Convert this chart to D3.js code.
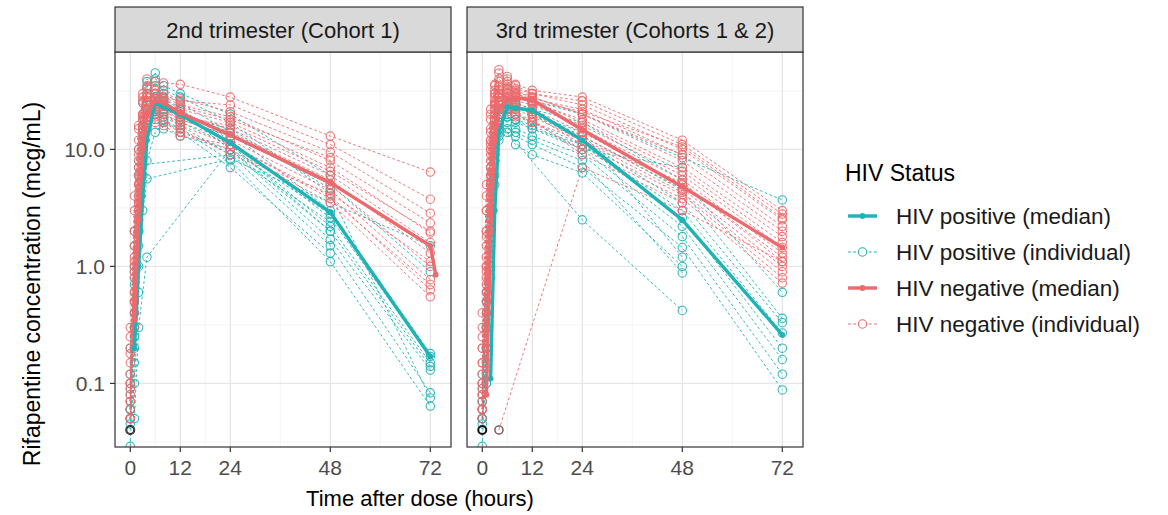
<!DOCTYPE html>
<html><head><meta charset="utf-8">
<script src="https://cdn.jsdelivr.net/npm/d3@7"></script>
<style>
body{margin:0;background:#fff;}
svg{display:block;}
text{font-family:"Liberation Sans",Arial,Helvetica,sans-serif;}
</style>
</head><body>
<svg id="c" width="1168" height="515"></svg>
<script>
// ---------------- DATA ----------------
const panelTitles = ["2nd trimester (Cohort 1)", "3rd trimester (Cohorts 1 & 2)"];
const legendTitle = "HIV Status";
const legendLabels = ["HIV positive (median)", "HIV positive (individual)", "HIV negative (median)", "HIV negative (individual)"];
const xTicks = [0, 12, 24, 48, 72];
const xMinor = [6, 18, 36, 60];
const yTicks = [0.1, 1, 10];
const yTickLabels = ["0.1", "1.0", "10.0"];
const yMinor = [0.0316, 0.316, 3.16, 31.6];
const yLimits = [0.0286, 68];
const xTitle = "Time after dose (hours)";
const yTitle = "Rifapentine concentration (mcg/mL)";

// sampling times for individual profiles (hours)
const indTimes = [0, 1, 2, 3, 4, 6, 8, 12, 24, 48, 72];

// Panel 1 (2nd trimester) - HIV positive individuals
const p1PosInd = [
  [0.029, 0.6, 5, 18, 34, 45, 30, 25, 14, 3.0, 0.18],
  [0.05, 0.3, 2.5, 10, 22, 28, 27, 22, 12, 2.6, 0.17],
  [0.06, 1.0, 8, 20, 30, 33, 26, 20, 11, 2.2, 0.15],
  [0.045, 0.15, 1.0, 6, 15, 24, 25, 21, 10, 1.7, 0.13],
  [0.07, 0.5, 3, 9, 16, 20, 19, 16, 9, 1.5, 0.083],
  [0.05, 0.1, 0.6, 3, 8, 14, 17, 15, 8, 1.1, 0.064],
  [0.09, 1.5, 7, 15, 25, 30, 32, 28, 17, 4.2, 0.075],
  [null, 0.2, 1.5, null, 5.6, null, null, null, 8.3, 3.5, 1.5],
  [null, 0.05, 0.3, null, 1.2, null, null, null, 10, 2.0, null],
  [0.06, 0.8, 6, 16, 24, 27, 22, 18, 13, 5.0, 0.9],
  [0.12, 2, 10, 25, 38, 40, 35, 30, 20, 6.0, null],
  [0.05, 0.4, 3.5, 12, 20, 22, 18, 14, 7, 1.3, null],
  [0.08, 0.3, 2, 7.4, null, null, null, null, 9, 2.4, null],
  [0.2, 0.7, 4, 12, 19, 18, 15, 13, 10, 2.8, null],
  [0.06, 0.9, 6, 14, 22, 26, 24, 19, 15, 4.6, null],
  [0.1, 0.25, 2, 8, 18, 21, 20, 17, 11, 2.0, 0.14]
];
// Panel 1 - HIV negative individuals
const p1NegInd = [
  [0.05, 0.5, 6, 20, 35, 38, 37, 36, 28, 13, 6.4],
  [0.06, 1.2, 9, 25, 33, 30, 28, 26, 24, 11, 3.75],
  [0.1, 0.3, 3, 12, 25, 32, 30, 27, 21, 9.5, 2.85],
  [0.07, 2, 12, 30, 40, 35, 28, 24, 19, 8, 2.35],
  [0.15, 0.8, 5, 15, 22, 26, 25, 22, 17, 7, 1.93],
  [0.1, 3, 15, 28, 30, 27, 24, 20, 15, 6, 1.6],
  [0.25, 0.6, 4, 14, 24, 27, 26, 20, 14, 5.5, 1.3],
  [0.07, 1.5, 8, 18, 26, 24, 21, 18, 13, 5, 1.0],
  [0.3, 0.4, 2.5, 9, 17, 20, 20, 17, 12, 4.5, 0.77],
  [0.2, 4, 16, 26, 28, 24, 20, 16, 11, 4, 0.63],
  [0.12, 1, 6, 16, 20, 19, 17, 14, 10, 3.5, 0.55],
  [0.08, 2, 10, 20, 22, 20, 18, 15, 9, 4.2, 1.1],
  [0.09, 1.1, 7, 19, 28, 30, 27, 23, 18, 8.5, null],
  [0.18, 0.5, 3.5, 11, 19, 23, 22, 19, 16, 6.5, 2.0],
  [0.05, 0.9, 5, 13, 18, 17, 16, 13, 11, 3.8, 0.7]
];
// Panel 2 (3rd trimester) - HIV positive individuals
const p2PosInd = [
  [0.029, 0.3, 5, 15, 28, 33, 30, 26, 20, 8.5, 3.7],
  [0.05, 0.1, 1.5, 8, 20, 26, 25, 22, 17, 5.5, 0.6],
  [0.06, 0.2, 3, 12, 22, 24, 23, 21, 13, 4.5, 0.36],
  [0.045, 0.12, 0.8, 5, 14, 22, 24, 20, 12, 3.5, 0.33],
  [0.07, 0.5, 6, 18, 25, 23, 20, 17, 11, 2.6, 0.2],
  [0.05, 0.15, 2, 9, 16, 19, 18, 15, 10, 2.2, 0.16],
  [0.09, 0.3, 4, 13, 19, 17, 15, 13, 9, 1.8, 0.12],
  [0.06, 0.1, 1, 6, 12, 14, 13, 11, 7, 1.45, 0.088],
  [0.05, 0.2, 2.5, 10, 17, null, 11, 9, 6.3, 1.0, null],
  [0.08, 0.4, 5, 14, 17, null, null, null, 2.5, 0.42, null],
  [0.1, 0.3, 3, 9, 13, 15, 14, 12, 8, 0.88, null],
  [0.05, 0.2, 2, 8, 15, 20, 18, 16, 10, 7, null],
  [0.12, 0.6, 7, 20, 30, 27, 24, 20, 14, 1.2, null],
  [0.07, 0.5, 4, 11, 18, 19, 17, 15, 11, 3.0, 0.27]
];
// Panel 2 - HIV negative individuals
const p2NegInd = [
  [0.05, 1, 10, 30, 48, 42, 36, 32, 28, 12, 3.0],
  [0.06, 2, 14, 35, 45, 38, 33, 30, 26, 11, 2.8],
  [0.08, 0.5, 6, 20, 38, 40, 35, 30, 24, 10, 2.5],
  [0.06, 3, 18, 36, 40, 34, 30, 27, 22, 9, 2.2],
  [0.15, 0.8, 8, 24, 35, 36, 32, 28, 20, 8, 2.0],
  [0.1, 4, 20, 30, 32, 30, 28, 25, 18, 7, 1.8],
  [0.2, 0.3, 3, 12, 26, 32, 30, 26, 17, 6.5, 1.6],
  [0.07, 1.5, 12, 26, 30, 28, 26, 24, 16, 6, 1.45],
  [0.3, 0.6, 5, 16, 28, 30, 28, 25, 15, 5.5, 1.3],
  [0.2, 5, 22, 32, 30, 27, 25, 22, 14, 5, 1.2],
  [0.12, 1, 9, 22, 28, 26, 24, 20, 13, 4.6, 1.0],
  [0.08, 2, 12, 24, 26, 24, 22, 19, 12, 4.3, 0.9],
  [0.4, 0.4, 4, 14, 22, 25, 23, 20, 11, 4.1, 0.8],
  [0.15, 3, 15, 25, 25, 22, 20, 17, 10, 3.8, 0.72],
  [0.06, 1.2, 10, 22, 30, 33, 31, 28, 20, 9, null],
  [null, null, null, null, 0.04, null, null, null, 7, 3.0, 1.1],
  [0.1, 0.7, 7, 18, 24, 22, 20, 18, 9, 3.5, null],
  [0.09, 1.8, 11, 28, 34, 31, 29, 26, 21, 10.5, 2.6],
  [0.25, 0.9, 6, 15, 20, 21, 19, 17, 12, 5.2, 1.1]
];

// Median profiles
const p1PosMedT = [1, 2, 3, 4, 6, 8, 12, 24, 48, 72];
const p1PosMed  = [0.2, 1.0, 4, 12, 25, 23, 19.8, 11.4, 2.9, 0.17];
const p1NegMedT = [1, 2, 3, 4, 6, 8, 12, 24, 48, 72, 73.3];
const p1NegMed  = [0.35, 2.5, 10, 20, 26.5, 25, 20.5, 13.3, 5.2, 1.5, 0.85];
const p2PosMedT = [2, 3, 4, 6, 8, 12, 24, 48, 72];
const p2PosMed  = [0.11, 3, 14, 23, 22.5, 21.7, 12, 2.5, 0.26];
const p2NegMedT = [1, 2, 3, 4, 6, 8, 12, 24, 48, 72];
const p2NegMed  = [0.08, 2, 12, 22, 27, 27.5, 26.6, 14.7, 4.8, 1.45];

// Below-quantification samples (plotted in black)
const blqTimes  = [[0, 0], [0, 4]];
const blqValues = [[0.04, 0.04], [0.04, 0.04]];

// ---------------- CHART ----------------
const colPos = "#20b3b6", colNeg = "#ec6a6d";
const svg = d3.select("#c");
const plotTop = 52, plotBot = 447, stripTop = 7;
const panelX = [[115, 451], [467, 803]];

const allT = indTimes.concat(p1NegMedT);
const tMin = d3.min(allT), tMax = d3.max(allT), tPad = (tMax - tMin) * 0.05;
const y = d3.scaleLog().domain(yLimits).range([plotBot, plotTop]);

const panelData = [
  {pos: p1PosInd, neg: p1NegInd, posMed: [p1PosMedT, p1PosMed], negMed: [p1NegMedT, p1NegMed]},
  {pos: p2PosInd, neg: p2NegInd, posMed: [p2PosMedT, p2PosMed], negMed: [p2NegMedT, p2NegMed]}
];

panelData.forEach((pd, i) => {
  const [x0, x1] = panelX[i];
  const x = d3.scaleLinear().domain([tMin - tPad, tMax + tPad]).range([x0, x1]);
  const g = svg.append("g");

  // grid
  g.selectAll(".gxm").data(xMinor).enter().append("line")
    .attr("x1", d => x(d)).attr("x2", d => x(d)).attr("y1", plotTop).attr("y2", plotBot)
    .attr("stroke", "#f2f2f2").attr("stroke-width", 0.9);
  g.selectAll(".gym").data(yMinor).enter().append("line")
    .attr("x1", x0).attr("x2", x1).attr("y1", d => y(d)).attr("y2", d => y(d))
    .attr("stroke", "#f2f2f2").attr("stroke-width", 0.9);
  g.selectAll(".gx").data(xTicks).enter().append("line")
    .attr("x1", d => x(d)).attr("x2", d => x(d)).attr("y1", plotTop).attr("y2", plotBot)
    .attr("stroke", "#e6e6e6").attr("stroke-width", 1.3);
  g.selectAll(".gy").data(yTicks).enter().append("line")
    .attr("x1", x0).attr("x2", x1).attr("y1", d => y(d)).attr("y2", d => y(d))
    .attr("stroke", "#e6e6e6").attr("stroke-width", 1.3);

  const clipId = "clip" + i;
  svg.append("clipPath").attr("id", clipId).append("rect")
    .attr("x", x0).attr("y", plotTop).attr("width", x1 - x0).attr("height", plotBot - plotTop);
  const d = g.append("g").attr("clip-path", `url(#${clipId})`);

  const line = d3.line().defined(p => p[1] != null).x(p => x(p[0])).y(p => y(p[1]));

  function drawInd(rows, col) {
    rows.forEach(r => {
      const pts = indTimes.map((t, k) => [t, r[k]]).filter(p => p[1] != null);
      d.append("path").datum(pts).attr("d", line).attr("fill", "none")
        .attr("stroke", col).attr("stroke-width", 1).attr("stroke-dasharray", "2.8,2.4").attr("opacity", 0.9);
      d.selectAll(null).data(pts).enter().append("circle")
        .attr("cx", p => x(p[0])).attr("cy", p => y(p[1])).attr("r", 4.2)
        .attr("fill", "none").attr("stroke", col).attr("stroke-width", 1.1).attr("opacity", 0.9);
    });
  }
  function drawMed(m, col) {
    const pts = m[0].map((t, k) => [t, m[1][k]]);
    d.append("path").datum(pts).attr("d", line).attr("fill", "none")
      .attr("stroke", col).attr("stroke-width", 3.4).attr("stroke-linejoin", "round");
    d.selectAll(null).data(pts).enter().append("circle")
      .attr("cx", p => x(p[0])).attr("cy", p => y(p[1])).attr("r", 2.9).attr("fill", col);
  }
  drawInd(pd.pos, colPos);
  drawInd(pd.neg, colNeg);
  drawMed(pd.posMed, colPos);
  drawMed(pd.negMed, colNeg);

  // BLQ
  blqTimes[i].forEach((t, k) => {
    d.append("circle").attr("cx", x(t)).attr("cy", y(blqValues[i][k])).attr("r", 4)
      .attr("fill", "none").attr("stroke", k === 0 ? "#111" : "#555").attr("stroke-width", k === 0 ? 2 : 1.1);
  });

  // border
  g.append("rect").attr("x", x0).attr("y", plotTop).attr("width", x1 - x0).attr("height", plotBot - plotTop)
    .attr("fill", "none").attr("stroke", "#333").attr("stroke-width", 1.2);
  // strip
  g.append("rect").attr("x", x0).attr("y", stripTop).attr("width", x1 - x0).attr("height", plotTop - stripTop)
    .attr("fill", "#d9d9d9").attr("stroke", "#333").attr("stroke-width", 1.2);
  g.append("text").attr("x", (x0 + x1) / 2).attr("y", (stripTop + plotTop) / 2 + 8)
    .attr("text-anchor", "middle").attr("font-size", 22).attr("fill", "#1a1a1a").text(panelTitles[i]);

  // x axis
  const xa = g.append("g");
  xa.selectAll("line").data(xTicks).enter().append("line")
    .attr("x1", d => x(d)).attr("x2", d => x(d)).attr("y1", plotBot).attr("y2", plotBot + 5)
    .attr("stroke", "#333").attr("stroke-width", 1.2);
  xa.selectAll("text").data(xTicks).enter().append("text")
    .attr("x", d => x(d)).attr("y", plotBot + 28).attr("text-anchor", "middle")
    .attr("font-size", 21).attr("fill", "#4d4d4d").text(d => d);

  if (i === 0) {
    const ya = g.append("g");
    ya.selectAll("line").data(yTicks).enter().append("line")
      .attr("x1", x0 - 5).attr("x2", x0).attr("y1", d => y(d)).attr("y2", d => y(d))
      .attr("stroke", "#333").attr("stroke-width", 1.2);
    ya.selectAll("text").data(yTicks).enter().append("text")
      .attr("x", x0 - 10).attr("y", d => y(d) + 7.5).attr("text-anchor", "end")
      .attr("font-size", 21).attr("fill", "#4d4d4d").text((d, k) => yTickLabels[k]);
  }
});

// axis titles
svg.append("text").attr("x", 420).attr("y", 506)
  .attr("text-anchor", "middle").attr("font-size", 22).attr("fill", "#000").text(xTitle);
svg.append("text").attr("transform", "translate(40,284) rotate(-90)")
  .attr("text-anchor", "middle").attr("font-size", 23).attr("fill", "#000").text(yTitle);

// legend
const lg = svg.append("g");
lg.append("text").attr("x", 845).attr("y", 181).attr("font-size", 23).attr("fill", "#000").text(legendTitle);
const legCols = [colPos, colPos, colNeg, colNeg];
const legY = [216, 252, 288, 324];
legendLabels.forEach((lab, k) => {
  const cy = legY[k];
  const med = k % 2 === 0;
  lg.append("line").attr("x1", 848).attr("x2", 877).attr("y1", cy).attr("y2", cy)
    .attr("stroke", legCols[k]).attr("stroke-width", med ? 3.4 : 1)
    .attr("stroke-dasharray", med ? null : "2.8,2.4");
  lg.append("circle").attr("cx", 862.5).attr("cy", cy).attr("r", med ? 2.9 : 4.2)
    .attr("fill", med ? legCols[k] : "#fff").attr("stroke", med ? "none" : legCols[k]).attr("stroke-width", 1.1);
  lg.append("text").attr("x", 896).attr("y", cy + 8).attr("font-size", 22.5).attr("fill", "#1a1a1a").text(lab);
});
</script>
</body></html>
